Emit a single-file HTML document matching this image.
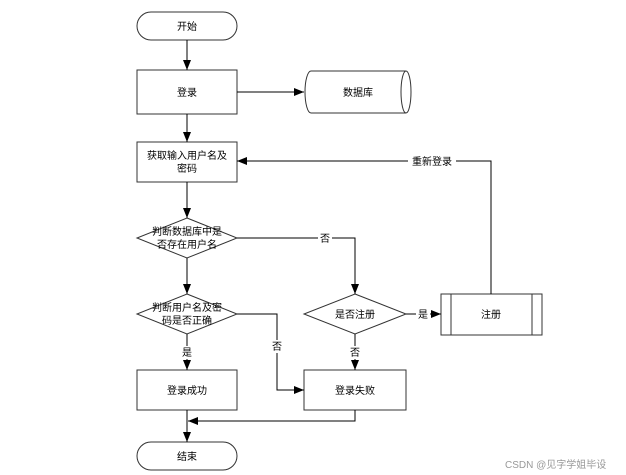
<!DOCTYPE html>
<html><head><meta charset="utf-8"><style>
html,body{margin:0;padding:0;background:#fff;}
svg{display:block;}
text{font-family:"Liberation Sans","Noto Sans CJK SC",sans-serif;font-size:10px;fill:#000;}
</style></head><body>
<svg width="626" height="475" viewBox="0 0 626 475" xmlns="http://www.w3.org/2000/svg">
<defs><marker id="a" markerWidth="10" markerHeight="8" refX="10" refY="4" orient="auto" markerUnits="userSpaceOnUse"><path d="M0,0 L10,4 L0,8 z" fill="#000"/></marker></defs>
<g fill="#fff" stroke="#333" stroke-width="1">
<rect x="137" y="12" width="100" height="28" rx="14"/>
<rect x="137" y="70" width="100" height="44"/>
<path d="M311,71 L406,71 A5,21 0 0 1 406,113 L311,113 A6,21 0 0 1 311,71 Z"/>
<path d="M406,71 A5,21 0 0 0 406,113"/>
<rect x="137" y="142" width="100" height="40"/>
<polygon points="187,218 237,238 187,258 137,238"/>
<polygon points="187,294 237,314 187,334 137,314"/>
<polygon points="355,294 406,314 355,334 304,314"/>
<rect x="441" y="294" width="101" height="41"/>
<line x1="451" y1="294" x2="451" y2="335"/><line x1="532" y1="294" x2="532" y2="335"/>
<rect x="137" y="370" width="100" height="40"/>
<rect x="304" y="370" width="102" height="40"/>
<rect x="137" y="442" width="100" height="28" rx="14"/>
</g>
<g fill="none" stroke="#000" stroke-width="1">
<line x1="187" y1="40" x2="187" y2="70" marker-end="url(#a)"/>
<line x1="237" y1="92" x2="304" y2="92" marker-end="url(#a)"/>
<line x1="187" y1="114" x2="187" y2="142" marker-end="url(#a)"/>
<line x1="187" y1="182" x2="187" y2="218" marker-end="url(#a)"/>
<line x1="187" y1="258" x2="187" y2="294" marker-end="url(#a)"/>
<line x1="187" y1="334" x2="187" y2="370" marker-end="url(#a)"/>
<line x1="187" y1="410" x2="187" y2="442" marker-end="url(#a)"/>
<polyline points="237,238 355,238 355,294" marker-end="url(#a)"/>
<polyline points="237,314 277,314 277,390 304,390" marker-end="url(#a)"/>
<line x1="406" y1="314" x2="441" y2="314" marker-end="url(#a)"/>
<line x1="355" y1="334" x2="355" y2="370" marker-end="url(#a)"/>
<polyline points="355,410 355,421 188,421" marker-end="url(#a)"/>
<polyline points="491,294 491,161 237,161" marker-end="url(#a)"/>
</g>
<g text-anchor="middle">
<text x="187" y="30">开始</text>
<text x="187" y="96">登录</text>
<text x="358" y="96">数据库</text>
<text x="187" y="159">获取输入用户名及</text>
<text x="187" y="172">密码</text>
<text x="187" y="235">判断数据库中是</text>
<text x="187" y="248">否存在用户名</text>
<text x="187" y="311">判断用户名及密</text>
<text x="187" y="324">码是否正确</text>
<text x="355" y="318">是否注册</text>
<text x="491" y="318">注册</text>
<text x="187" y="394">登录成功</text>
<text x="355" y="394">登录失败</text>
<text x="187" y="460">结束</text>
</g>
<g text-anchor="middle">
<rect x="408" y="154" width="48" height="13" fill="#fff"/><text x="432" y="165">重新登录</text>
<rect x="318" y="232" width="14" height="13" fill="#fff"/><text x="325" y="242">否</text>
<rect x="416" y="308" width="14" height="13" fill="#fff"/><text x="423" y="318">是</text>
<rect x="270" y="340" width="14" height="13" fill="#fff"/><text x="277" y="350">否</text>
<rect x="348" y="346" width="14" height="13" fill="#fff"/><text x="355" y="356">否</text>
<rect x="180" y="346" width="14" height="13" fill="#fff"/><text x="187" y="356">是</text>
</g>
<text x="505" y="468" style="fill:#999;font-size:10px">CSDN @见字学姐毕设</text>
</svg>
</body></html>
